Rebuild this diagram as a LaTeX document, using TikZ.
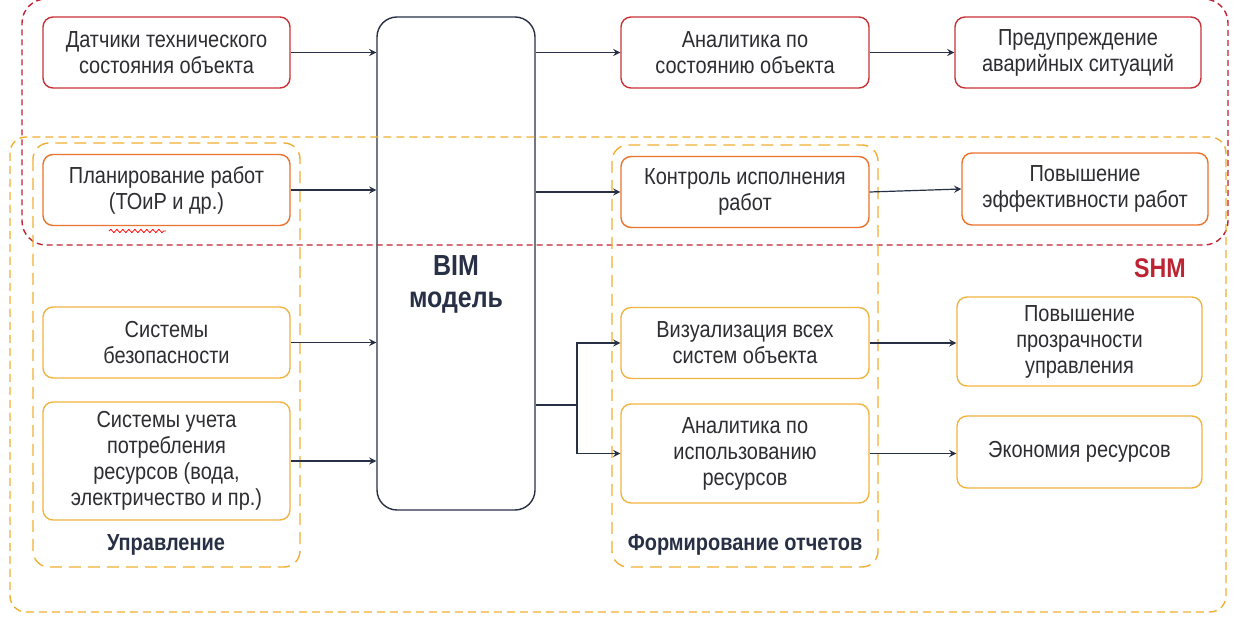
\documentclass[tikz,border=0pt]{standalone}
\usepackage{fontspec}
\setmainfont{Liberation Sans}[FakeStretch=0.86]
\usetikzlibrary{arrows,decorations.pathmorphing}

\definecolor{shmred}{RGB}{190,35,50}
\definecolor{boxred}{RGB}{200,50,55}
\definecolor{boxorange}{RGB}{235,115,45}
\definecolor{boxyellow}{RGB}{242,180,65}
\definecolor{dashyellow}{RGB}{240,175,50}
\definecolor{arrowcol}{RGB}{40,48,70}
\definecolor{textcol}{RGB}{45,45,50}

\tikzstyle{box} = [rectangle, rounded corners=5pt, minimum width=123.5pt,
minimum height=35.5pt, text centered, align=center, fill=white, line width=0.7pt,
text=textcol, font=\fontsize{11.6}{13}\selectfont]
\tikzstyle{redbox} = [box, draw=boxred]
\tikzstyle{orangebox} = [box, draw=boxorange]
\tikzstyle{yellowbox} = [box, draw=boxyellow]
\tikzstyle{region} = [rounded corners=8pt, line width=0.7pt]
\tikzstyle{grouplabel} = [font=\bfseries\fontsize{11.6}{13}\selectfont, text=arrowcol]
\tikzstyle{arrow} = [line width=0.6pt, draw=arrowcol, ->, >=stealth]

\begin{document}
\begin{tikzpicture}[x=0.5pt, y=-0.5pt]
    \useasboundingbox (0,0) rectangle (1248,624);

    % left column
    \node (sens) [redbox] at (166.5,52.5) {Датчики технического\\состояния объекта};
    \node (plan) [orangebox] at (166.5,190) {Планирование работ\\(ТОиР и др.)};
    \node (bezop) [yellowbox] at (166.5,342.5) {Системы\\безопасности};
    \node (uchet) [yellowbox, minimum height=59pt] at (166.5,461)
        {Системы учета\\потребления\\ресурсов (вода,\\электричество и пр.)};

    % BIM model
    \node (bim) [box, draw=arrowcol, fill=none, rounded corners=10pt, minimum width=79pt,
        minimum height=246.5pt] at (456,263.5) {};
    \node (bimtxt) [font=\bfseries\fontsize{14.5}{16}\selectfont, text=arrowcol, align=center]
        at (456,284) {BIM\\модель};

    % middle column
    \node (anst) [redbox, minimum width=124pt] at (745,52.5) {Аналитика по\\состоянию объекта};
    \node (kontr) [orangebox, minimum width=124pt] at (745,192) {Контроль исполнения\\работ};
    \node (viz) [yellowbox, minimum width=124pt] at (745,343) {Визуализация всех\\систем объекта};
    \node (anisp) [yellowbox, minimum width=124pt, minimum height=49.5pt] at (745,453.5)
        {Аналитика по\\использованию\\ресурсов};

    % right column
    \node (pred) [redbox, minimum width=123pt] at (1078,52.5) {Предупреждение\\аварийных ситуаций};
    \node (eff) [orangebox, minimum width=123pt, minimum height=36pt] at (1085,189)
        {Повышение\\эффективности работ};
    \node (prozr) [yellowbox, minimum width=122.5pt, minimum height=44.5pt] at (1079.5,341.5)
        {Повышение\\прозрачности\\управления};
    \node (ekon) [yellowbox, minimum width=122.5pt, minimum height=36pt] at (1079.5,452)
        {Экономия ресурсов};

    % dashed regions (SHM region runs off the top edge)
    \draw [region, draw=shmred, rounded corners=12pt, dash pattern=on 3pt off 2pt]
        (40,-1) -- (22,-1) -- (22,245) -- (1228,245) -- (1228,-1) -- (1210,-1);
    \draw [region, draw=dashyellow, dash pattern=on 4pt off 2.5pt] (10,137) rectangle (1226,612);
    \draw [region, draw=dashyellow, dash pattern=on 6pt off 3.5pt] (33,143) rectangle (300,567);
    \draw [region, draw=dashyellow, dash pattern=on 6pt off 3.5pt] (612,145) rectangle (878,567);
    \node (shm) [font=\bfseries\fontsize{13.5}{15}\selectfont, text=shmred] at (1160,268) {SHM};
    \node (uprlabel) [grouplabel] at (166,545) {Управление};
    \node (otchlabel) [grouplabel] at (745,545) {Формирование отчетов};

    % spell check squiggle
    \coordinate (sqa) at (109,231);
    \coordinate (sqb) at (166,231);
    \draw [red, line width=0.4pt, decorate, decoration={snake, amplitude=0.8pt, segment length=3pt}]
        (sqa) -- (sqb);

    \draw [arrow] (sens.east) -- (sens.east -| bim.west);
    \draw [arrow] (plan.east) -- (plan.east -| bim.west);
    \draw [arrow] (bezop.east) -- (bezop.east -| bim.west);
    \draw [arrow] (uchet.east) -- (uchet.east -| bim.west);
    \draw [arrow] (anst.west -| bim.east) -- (anst.west);
    \draw [arrow] (anst) -- (pred);
    \draw [arrow] (kontr.west -| bim.east) -- (kontr.west);
    \draw [arrow] (kontr.east) -- (eff.west);
    \coordinate (fork) at (577,405);
    \draw [line width=0.6pt, draw=arrowcol] (fork -| bim.east) -- (fork);
    \draw [arrow] (fork) |- (viz.west);
    \draw [arrow] (fork) |- (anisp.west);
    \draw [arrow] (viz) -- (viz -| prozr.west);
    \draw [arrow] (anisp) -- (anisp -| ekon.west);
  \end{tikzpicture}
\end{document}
